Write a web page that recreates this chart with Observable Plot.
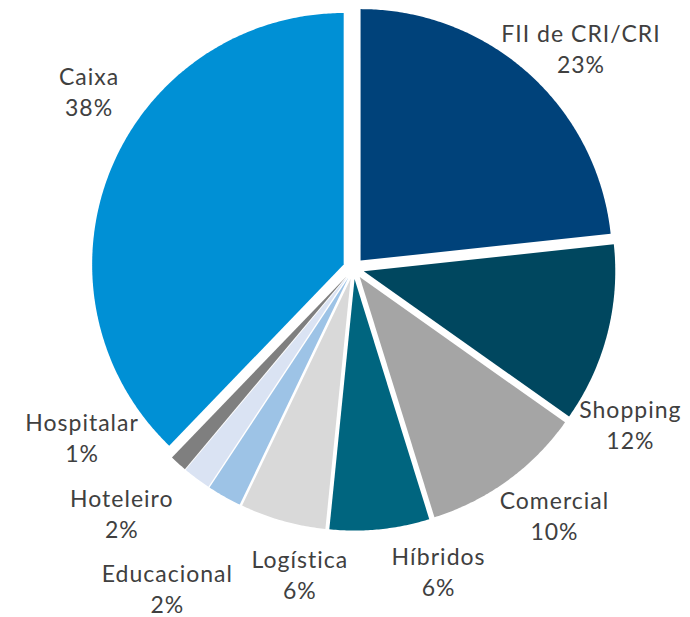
<!DOCTYPE html>
<html>
<head>
<meta charset="utf-8">
<script src="https://cdn.jsdelivr.net/npm/d3@7"></script>
<script src="https://cdn.jsdelivr.net/npm/@observablehq/plot@0.6"></script>
<style>
  html, body { margin: 0; padding: 0; background: #ffffff; }
  #chart { width: 690px; height: 617px; }
</style>
</head>
<body>
<div id="chart"></div>
<script>
// ---- data ----
const categories = ["FII de CRI/CRI", "Shopping", "Comercial", "Híbridos", "Logística", "Educacional", "Hoteleiro", "Hospitalar", "Caixa"];
const shares = [23.3, 11.5, 10.4, 6.4, 5.5, 2.2, 1.8, 1.1, 37.8];
const colors = ["#00427A", "#00475F", "#A5A5A5", "#00657F", "#D9D9D9", "#9DC3E6", "#DAE3F3", "#7F7F7F", "#0090D5"];

// ---- layout ----
const W = 690, H = 617;
const cx = 353, cy = 268, R = 251.5, explode = 10.6;
const labelAngleNudge = [4.3, 15.2, -2.9, -9.8, -5.8, 0.5, 6.4, 15.8, 11.5]; // degrees from slice bisector
const labelRadius = [315, 319, 320, 317, 313, 372, 339, 321, 317];

const total = d3.sum(shares);
const rad = Math.PI / 180;
let acc = 0;
const slices = categories.map((name, i) => {
  const a0 = acc / total * 360;
  acc += shares[i];
  const a1 = acc / total * 360;
  return {name, value: shares[i], a0, a1, mid: (a0 + a1) / 2, i};
});

// polygon points for each (exploded) slice
const pts = [];
for (const s of slices) {
  const ox = cx + explode * Math.sin(s.mid * rad);
  const oy = cy - explode * Math.cos(s.mid * rad);
  pts.push({name: s.name, x: ox, y: oy});
  const n = Math.max(2, Math.ceil((s.a1 - s.a0) / 0.5));
  for (let k = 0; k <= n; k++) {
    const a = (s.a0 + (s.a1 - s.a0) * k / n) * rad;
    pts.push({name: s.name, x: ox + R * Math.sin(a), y: oy - R * Math.cos(a)});
  }
}

// labels
const labels = slices.map(s => {
  const a = (s.mid + labelAngleNudge[s.i]) * rad;
  const r = labelRadius[s.i];
  return {
    text: s.name + "\n" + Math.round(s.value) + "%",
    x: cx + r * Math.sin(a),
    y: cy - r * Math.cos(a)
  };
});

const chart = Plot.plot({
  width: W,
  height: H,
  margin: 0,
  x: {domain: [0, W], range: [0, W], axis: null},
  y: {domain: [0, H], range: [0, H], axis: null},
  color: {domain: categories, range: colors},
  style: {fontFamily: "Lato, 'Open Sans', sans-serif", background: "#ffffff", letterSpacing: "1px"},
  marks: [
    Plot.line(pts, {x: "x", y: "y", z: "name", fill: "name", stroke: "none", curve: "linear-closed"}),
    Plot.text(labels, {x: "x", y: "y", dy: -3, text: "text", fontSize: 23, lineHeight: 31 / 23, fill: "#404040", textAnchor: "middle"})
  ]
});
document.getElementById("chart").appendChild(chart);
</script>
</body>
</html>
